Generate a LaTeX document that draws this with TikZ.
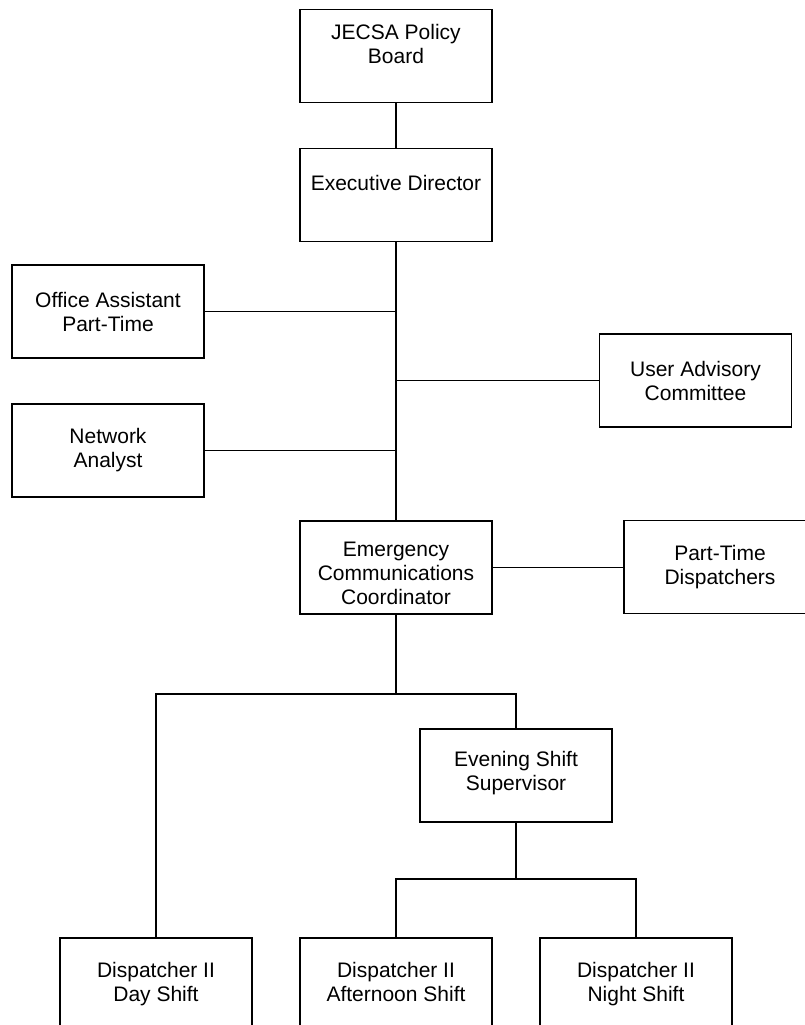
\documentclass[tikz,border=0pt]{standalone}
\usepackage{fontspec}
\newfontfamily\orgfont{Liberation Sans}
\begin{document}
\begin{tikzpicture}[x=1pt,y=-1pt,
  orgbox/.style={draw, line width=1.9pt, minimum width=192pt, minimum height=93pt, inner sep=0pt},
  orglabel/.style={align=center, inner sep=0pt, font=\orgfont\fontsize{21}{24}\selectfont},
  wire/.style={line width=1.9pt}]
\fill[white] (0,0) rectangle (805,1025);
\useasboundingbox (0,0) rectangle (805,1025);
% boxes
\node[orgbox, label={[orglabel,yshift=12pt]center:{JECSA Policy\\Board}}] (jecsa) at (396,56) {};
\node[orgbox, label={[orglabel,yshift=12pt]center:{Executive Director}}] (exec) at (396,195) {};
\node[orgbox, label={[orglabel]center:{Office Assistant\\Part-Time}}] (office) at (108,311.5) {};
\node[orgbox, label={[orglabel]center:{Network\\Analyst}}] (network) at (108,450.5) {};
\node[orgbox, label={[orglabel]center:{User Advisory\\Committee}}] (user) at (695.5,380.5) {};
\node[orgbox, label={[orglabel,yshift=-6pt]center:{Emergency\\Communications\\Coordinator}}] (ecc) at (396,567.5) {};
\node[orgbox, label={[orglabel]center:{Part-Time\\Dispatchers}}] (ptd) at (720,567) {};
\node[orgbox, label={[orglabel,yshift=2pt]center:{Evening Shift\\Supervisor}}] (eve) at (516,775.5) {};
\node[orgbox, label={[orglabel]center:{Dispatcher II\\Day Shift}}] (day) at (156,984.5) {};
\node[orgbox, label={[orglabel]center:{Dispatcher II\\Afternoon Shift\vphantom{y}}}] (aft) at (396,984.5) {};
\node[orgbox, label={[orglabel]center:{Dispatcher II\\Night Shift}}] (night) at (636,984.5) {};
% connectors
\draw[wire] (jecsa.south) -- (exec.north);
\draw[wire] (exec.south) -- (ecc.north);
\draw[wire] (office.east) -- (office.east -| exec.south);
\draw[wire] (network.east) -- (network.east -| exec.south);
\draw[wire] (user.west) -- (user.west -| exec.south);
\draw[wire] (ecc.east) -- (ecc.east -| ptd.west);
\coordinate (split1) at (396,694);
\draw[wire] (ecc.south) -- (split1);
\draw[wire] (day.north) |- (split1) -| (eve.north);
\coordinate (split2) at (516,879);
\draw[wire] (eve.south) -- (split2);
\draw[wire] (aft.north) |- (split2) -| (night.north);
\end{tikzpicture}
\end{document}
